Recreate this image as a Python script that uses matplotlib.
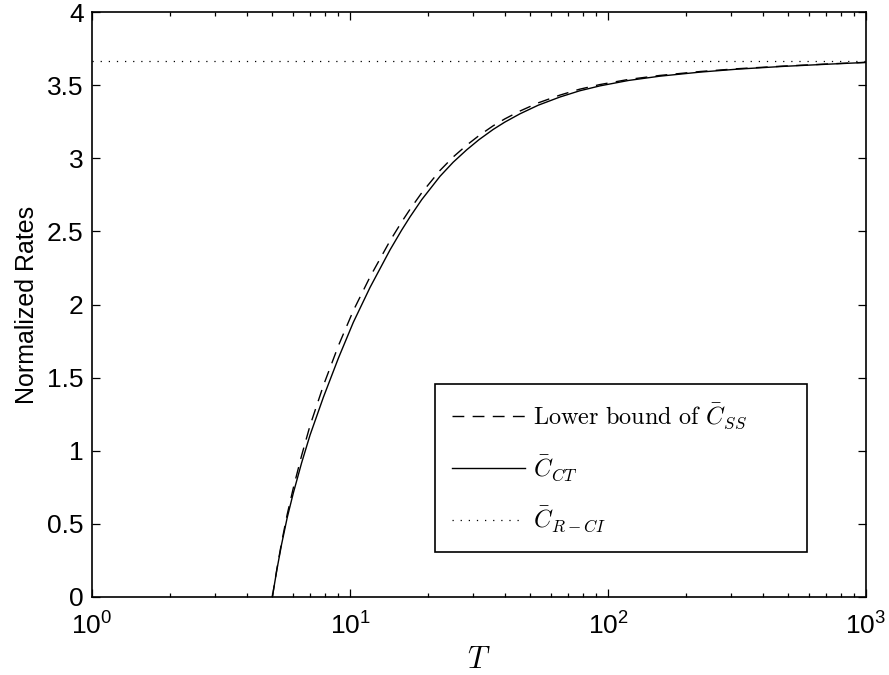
import matplotlib
matplotlib.use("Agg")
import matplotlib.pyplot as plt
from matplotlib.ticker import FixedLocator, LogLocator, NullFormatter

plt.rcParams['font.family'] = ['Liberation Sans', 'DejaVu Sans']
plt.rcParams['mathtext.fontset'] = 'cm'

# ---- data ----
T = [5.0, 5.21, 5.43, 5.71, 6.03, 6.49, 7.0, 7.89, 9.02, 10.3, 11.96, 14.29,
     15.85, 17.1, 18.97, 22.34, 25.12, 28.31, 31.62, 35.89, 39.81, 45.6, 53.7,
     65.2, 77.6, 93.1, 120.2, 158.5, 227.5, 316.2, 476.4, 707.9, 1000.0]
C_CT = [0, 0.189, 0.360, 0.543, 0.711, 0.916, 1.107, 1.367, 1.634, 1.878,
        2.117, 2.373, 2.508, 2.600, 2.717, 2.877, 2.973, 3.057, 3.127, 3.197,
        3.247, 3.304, 3.363, 3.419, 3.461, 3.495, 3.532, 3.561, 3.589, 3.609,
        3.628, 3.643, 3.655]
C_SS_lower = [0, 0.194, 0.372, 0.565, 0.746, 0.966, 1.172, 1.447, 1.719, 1.958,
              2.189, 2.435, 2.564, 2.652, 2.764, 2.917, 3.009, 3.089, 3.155,
              3.222, 3.269, 3.323, 3.379, 3.432, 3.472, 3.504, 3.539, 3.566,
              3.593, 3.612, 3.630, 3.6445, 3.656]
T_RCI = [1.0, 1000.0]
C_RCI = [3.667, 3.667]

y_ticks = [0, 0.5, 1, 1.5, 2, 2.5, 3, 3.5, 4]
y_tick_labels = ['0', '0.5', '1', '1.5', '2', '2.5', '3', '3.5', '4']

labels = [r'$\mathrm{Lower\ bound\ of}\ \bar{C}_{SS}$',
          r'$\bar{C}_{CT}$',
          r'$\bar{C}_{R-CI}$']

fig = plt.figure(figsize=(8.89, 6.75), dpi=100)
ax = fig.add_axes([92/889, 78/675, 774/889, 585/675])

ax.plot(T, C_SS_lower, color='black', lw=1.0, dashes=(8.5, 6), label=labels[0])
ax.plot(T, C_CT, color='black', lw=1.0, label=labels[1])
ax.plot(T_RCI, C_RCI, color='black', lw=0.9, dashes=(1, 5.5), label=labels[2])

ax.set_xscale('log')
ax.set_xlim(1, 1000)
ax.set_ylim(0, 4)
ax.yaxis.set_major_locator(FixedLocator(y_ticks))
ax.set_yticklabels(y_tick_labels)
ax.xaxis.set_major_locator(LogLocator(base=10, numticks=10))
ax.xaxis.set_minor_locator(LogLocator(base=10, subs=range(2, 10), numticks=20))
ax.xaxis.set_minor_formatter(NullFormatter())

for s in ax.spines.values():
    s.set_linewidth(1.2)
ax.tick_params(which='both', direction='in', top=True, right=True,
               labelsize=19, width=0.9)
ax.tick_params(which='major', length=6)
ax.tick_params(axis='y', which='major', pad=6)
ax.tick_params(axis='x', which='major', pad=11)
ax.tick_params(which='minor', length=3)

ax.set_xlabel(r'$T$', fontsize=22, labelpad=4)
ax.set_ylabel('Normalized Rates', fontsize=18, labelpad=6)

leg = ax.legend(loc='lower left', bbox_to_anchor=(0.443, 0.077, 0.481, 0.285),
                mode='expand', fontsize=17.5, frameon=True, fancybox=False,
                edgecolor='black', framealpha=1, borderpad=0.72,
                labelspacing=0.92, handlelength=3.0, handletextpad=0.3,
                borderaxespad=0)
leg.get_frame().set_linewidth(1.2)

fig.savefig('out.png', dpi=100)
